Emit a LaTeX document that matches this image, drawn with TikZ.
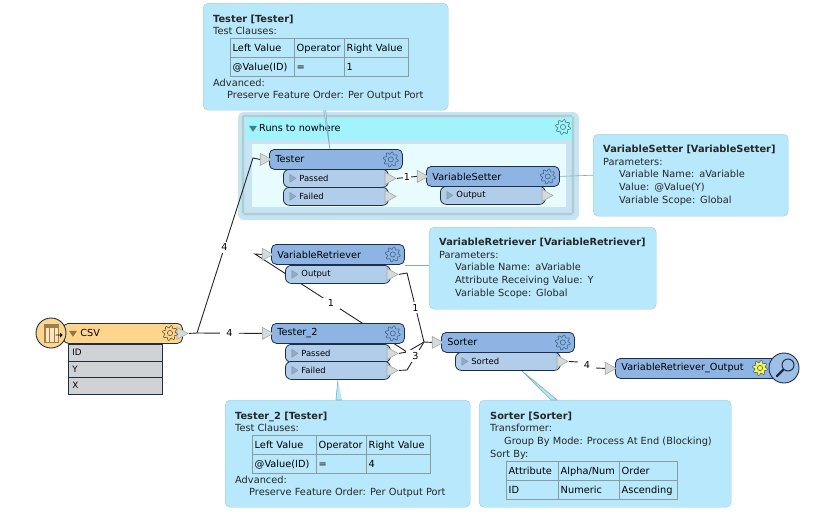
\documentclass[tikz,border=0pt]{standalone}
\usepackage{fontspec}
\setmainfont{DejaVu Sans}
\usetikzlibrary{matrix,calc,shapes.geometric,shapes.arrows,decorations.pathmorphing}

\pgfdeclarelayer{bg}
\pgfdeclarelayer{wires}
\pgfsetlayers{bg,wires,main}

\definecolor{tipfill}{HTML}{B8E8FB}
\definecolor{tipline}{HTML}{9CCADD}
\definecolor{mainfill}{HTML}{8DB4E2}
\definecolor{portfill}{HTML}{B2CDEA}
\definecolor{nodeline}{HTML}{1B3048}
\definecolor{gearline}{HTML}{3F6488}
\definecolor{csvfill}{HTML}{FFD58C}
\definecolor{attfill}{HTML}{D0D2D3}
\definecolor{gridline}{HTML}{8B9AA3}
\definecolor{tipgrey}{HTML}{D5DBDD}
\definecolor{bookouter}{HTML}{C8E4F2}
\definecolor{bookhead}{HTML}{A2F4FC}
\definecolor{bookbody}{HTML}{E8FBFD}
\definecolor{bookedge}{HTML}{A3CBCC}

\tikzset{
    tipbox/.style={draw=tipline,fill=tipfill,rounded corners=5,anchor=north west,inner sep=0},
    tiptext/.style={font=\fontsize{9.8}{12.8}\selectfont,align=left,inner sep=0,text=black!85},
    mainbox/.style={draw=nodeline,fill=mainfill,rounded corners=5,anchor=north west,line width=.8,
        minimum height=20,text width=121,inner xsep=6,inner ysep=0,align=left,font=\fontsize{9.7}{12}\selectfont},
    portbox/.style={draw=nodeline,fill=portfill,rounded corners=6,anchor=north west,line width=.8,
        minimum height=18,text width=97,inner xsep=4,inner ysep=0,align=left,font=\fontsize{8.4}{11}\selectfont},
    porttip/.style={isosceles triangle,isosceles triangle stretches,minimum width=12,minimum height=11,inner sep=0,
        draw=black!35,fill=tipgrey,line width=.6,anchor=apex},
    portmark/.style={isosceles triangle,isosceles triangle stretches,minimum width=8,minimum height=6,inner sep=0,
        draw=gearline!70,fill=gearline!55,line width=.3},
    dropmark/.style={isosceles triangle,isosceles triangle stretches,minimum width=8,minimum height=6,inner sep=0,
        shape border rotate=270},
    attbox/.style={draw=nodeline,fill=attfill,minimum width=94,minimum height=16.5,anchor=north west,inner sep=0,
        text width=86,align=left,font=\fontsize{8.8}{11}\selectfont,line width=.6},
    wire/.style={draw=black!85,line width=.9},
    wirelabel/.style={fill=white,inner xsep=3,inner ysep=2,font=\fontsize{9.6}{11}\selectfont},
    leader/.style={draw=tipline!85!black,fill=tipfill,line width=.6},
    gridtable/.style={matrix of nodes,ampersand replacement=\&,anchor=north west,inner sep=0,
        column sep=-1,row sep=-1,
        nodes={draw=gridline,line width=1,minimum height=19,inner xsep=2,inner ysep=0,align=left,
            text height=8,text depth=2,font=\fontsize{9.8}{12}\selectfont}},
    gearicon/.pic={
        \draw[pic actions,line width=.6] plot[domain=0:360,samples=73,smooth] (\x:{6.4+1.2*sin(8*\x)}) -- cycle;
        \draw[pic actions,line width=.6] (0,0) circle (2.6);
    },
}

% tooltip of a Tester, table included
\newcommand{\testertip}[5]{
    \node[tipbox,minimum width=245,minimum height=107] (#1) at (#4,#5) {};
    \node[tiptext,anchor=north west] (#1-head) at ([shift={(10,11.5)}]#1.north west)
        {\textbf{#2}\\Test Clauses:};
    \matrix (#1-table) [gridtable,column 1/.style={nodes={text width=60}},column 2/.style={nodes={text width=46}},
        column 3/.style={nodes={text width=60}}] at ([shift={(27,35)}]#1.north west)
    {
    Left Value \& Operator \& Right Value \\
    @Value(ID) \& = \& #3 \\
    };
    \node[tiptext,anchor=north west] (#1-foot) at ([shift={(10,75.5)}]#1.north west)
        {Advanced:\\\hspace*{14pt}Preserve Feature Order: Per Output Port};
}

% output port with its two triangles
\newcommand{\portnode}[4]{
    \node[portbox] (#1) at (#3,#4) {\hspace*{12pt}#2};
    \node[portmark] (#1-mark) at ([xshift=9]#1.west) {};
    \node[porttip] (#1-out) at ([xshift=8]#1.east) {};
}

\begin{document}
\begin{tikzpicture}[x=1pt,y=-1pt]
    \useasboundingbox (0,0) rectangle (832,520);

    \begin{pgfonlayer}{bg}
    % bookmark
    \path[fill=bookouter,rounded corners=6] (238,112) rectangle (579,220);
    \path[fill=bookhead] (246,118) rectangle (573,140);
    \path[fill=bookbody] (252,144) rectangle (566,207);
    \foreach \side in {,mirror}
        \draw[draw=bookedge,line width=.5,decorate,decoration={zigzag,segment length=4,amplitude=1.2,\side}]
            (243,116) rectangle (573,214);
    \node[dropmark,fill=teal!50!gray] (bookmark-mark) at (253,128) {};
    \node[anchor=west,inner sep=0,font=\fontsize{9.7}{12}\selectfont] (bookmark) at (259,128) {Runs to nowhere};
    \pic[draw=teal!50!gray] at (563,127) {gearicon};

    % tooltips
    \testertip{testertip}{Tester [Tester]}{1}{203}{3}
    \testertip{tester2tip}{Tester\_2 [Tester]}{4}{225}{400}
    \node[tipbox,minimum width=195,minimum height=82,text width=175,inner xsep=10,tiptext] (settertip) at (593,134)
        {\textbf{VariableSetter [VariableSetter]}\\Parameters:\\\hspace*{16pt}Variable Name: aVariable\\
        \hspace*{16pt}Value: @Value(Y)\\\hspace*{16pt}Variable Scope: Global};
    \node[tipbox,minimum width=227,minimum height=82,text width=207,inner xsep=10,tiptext] (retrievertip) at (429,227)
        {\textbf{VariableRetriever [VariableRetriever]}\\Parameters:\\\hspace*{16pt}Variable Name: aVariable\\
        \hspace*{16pt}Attribute Receiving Value: Y\\\hspace*{16pt}Variable Scope: Global};
    \node[tipbox,minimum width=252,minimum height=107] (sortertip) at (479,400) {};
    \node[tiptext,anchor=north west] (sortertip-head) at ([shift={(11,11.5)}]sortertip.north west)
        {\textbf{Sorter [Sorter]}\\Transformer:\\\hspace*{14pt}Group By Mode: Process At End (Blocking)\\Sort By:};
    \matrix (sortertip-table) [gridtable,column 1/.style={nodes={text width=48}},column 2/.style={nodes={text width=57}},
        column 3/.style={nodes={text width=54}}] at ([shift={(27,61)}]sortertip.north west)
    {
    Attribute \& Alpha/Num \& Order \\
    ID \& Numeric \& Ascending \\
    };
    \end{pgfonlayer}

    % transformers
    \foreach \nm/\txt/\xa/\ya in {tester/Tester/269/149,setter/VariableSetter/426/166,retriever/VariableRetriever/271/244,
        tester2/Tester\_2/271/323,sorter/Sorter/441/332}
    {
        \node[mainbox] (\nm) at (\xa,\ya) {\txt};
        \node[porttip] (\nm-in) at ([xshift=3]\nm.west) {};
        \pic[draw=gearline] at ([xshift=-12]\nm.east) {gearicon};
    }
    \portnode{passed}{Passed}{283}{169}
    \portnode{failed}{Failed}{283}{187}
    \portnode{setterout}{Output}{440}{186}
    \portnode{retrieverout}{Output}{285}{265}
    \portnode{passedb}{Passed}{285}{344}
    \portnode{failedb}{Failed}{285}{361}
    \portnode{sorted}{Sorted}{455}{352}

    % reader
    \node[mainbox,fill=csvfill,text width=107] (csv) at (63,323) {\hspace*{11pt}CSV};
    \node[porttip] (csv-out) at ([xshift=6]csv.east) {};
    \pic[draw=black!60!csvfill] at (170,333) {gearicon};
    \node[dropmark,fill=black!45!csvfill] (csv-mark) at (73,333) {};
    \begin{pgfonlayer}{wires}
    \node[attbox] (csv-id) at (68,344) {ID};
    \node[attbox] (csv-y) at (68,360.5) {Y};
    \node[attbox] (csv-x) at (68,377) {X};
    \end{pgfonlayer}
    \node[circle,draw=nodeline,fill=csvfill,line width=.9,minimum size=30,inner sep=0] (csv-badge) at (51,333) {};
    \draw[black!40!csvfill,fill=csvfill!60!white,line width=.5,step=4.5] (44,324) rectangle (58,342) (44,324) grid (58,342);
    \fill[black!40!csvfill] (44,324) rectangle (58,328);
    \node[single arrow,fill=black,minimum height=7,minimum width=5,single arrow head extend=1,inner sep=0] (csv-arrow) at (59,335) {};

    % writer
    \node[mainbox,text width=153] (writer) at (615,358) {VariableRetriever\_Output};
    \node[porttip] (writer-in) at ([xshift=2]writer.west) {};
    \pic[draw=gearline,fill=yellow!70!white] at (760,368) {gearicon};
    \node[circle,draw=nodeline,fill=mainfill!85!white,line width=.9,minimum size=30,inner sep=0] (writer-badge) at (784,368) {};
    \draw[nodeline,line width=1] (788,365) circle (6);
    \draw[nodeline,line width=2.4,line cap=round] (783,370) -- (777,376);

    % connectors
    \begin{pgfonlayer}{wires}
    \coordinate (csvhub) at (197,333);
    \coordinate (testerbend) at (253,158);
    \coordinate (retrieverbend) at (255,254);
    \coordinate (passedbend) at (407,352);
    \coordinate (retrieveroutbend) at (407,273);
    \coordinate (failedbend) at (407,370);
    \coordinate (sorterhub) at (424,342);
    \coordinate (sortedbend) at (578,362);
    \coordinate (writerbend) at (596,368);
    \draw[wire] (csv-out.east) -- (csvhub) -- node[wirelabel,pos=.49] (label-a) {4} (testerbend) -- (tester-in.west);
    \draw[wire] (csvhub) -- node[wirelabel,inner xsep=6] (label-b) {4} (tester2-in.west);
    \draw[wire] (passed-out.east) -- node[wirelabel,inner xsep=1] (label-c) {1} (setter-in.west);
    \draw[wire] (passedb-out.east) -- (passedbend) -- node[wirelabel,inner xsep=6] (label-d) {1} (retrieverbend) -- (retriever-in.west);
    \draw[wire] (retrieverout-out.east) -- (retrieveroutbend) -- node[wirelabel] (label-e) {1} (sorterhub) -- (sorter-in.west);
    \draw[wire] (passedbend) -- (sorterhub);
    \draw[wire] (failedb-out.east) -- (failedbend) -- node[wirelabel,inner xsep=6] (label-f) {3} (sorterhub);
    \draw[wire] (sorted-out.east) -- (sortedbend) -- node[wirelabel,inner xsep=6] (label-g) {4} (writerbend) -- (writer-in.west);
    % leaders
    \draw[leader] ([xshift=0]testertip.south) -- ([xshift=-6]tester.north) -- ([xshift=-2]testertip.south);
    \draw[leader] (setter.east) -- (settertip.west);
    \draw[leader] (retriever.south east) -- (retriever.south east -| retrievertip.west);
    \draw[leader] (failedb.south) -- ([xshift=-2]tester2tip.north -| failedb.south) -- ([xshift=4]failedb.south |- tester2tip.north);
    \draw[leader] ([xshift=14]sorted.south) -- ([xshift=-48]sortertip.north) -- ([xshift=-54]sortertip.north) -- cycle;
    \end{pgfonlayer}
\end{tikzpicture}
\end{document}
